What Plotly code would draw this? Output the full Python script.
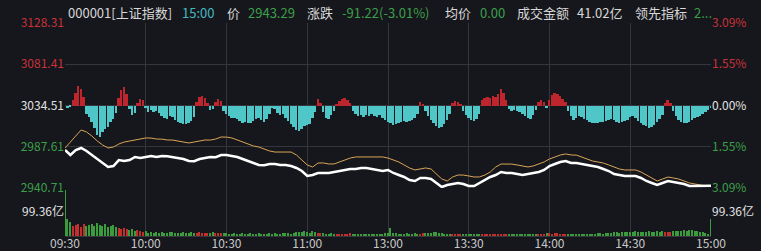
import plotly.graph_objects as go

# ---------------- data ----------------
PREV_CLOSE = 3034.51
price_ticks = [2940.71, 2987.61, 3034.51, 3081.41, 3128.31]
pct_ticks = [-3.09, -1.55, 0.0, 1.55, 3.09]
pct_labels = ["3.09%", "1.55%", "0.00%", "1.55%", "3.09%"]
time_ticks = [0, 30, 60, 90, 120, 150, 180, 210, 240]
time_labels = ["09:30", "10:00", "10:30", "11:00", "13:00", "13:30", "14:00", "14:30", "15:00"]
vol_tick = 99.36

# price line sampled every 2 minutes (minute index 0..240)
line_minutes = list(range(0, 241, 2))
price = [
    2983.9, 2978.2, 2983.9, 2986.2, 2982.8, 2978.2, 2973.7, 2969.1, 2964.6, 2965.7,
    2972.5, 2971.4, 2972.5, 2976.0, 2974.8, 2976.0, 2977.1, 2976.0, 2977.1, 2976.8,
    2975.9, 2974.8, 2973.7, 2971.4, 2971.2, 2973.7, 2974.8, 2976.0, 2975.8, 2978.2,
    2978.3, 2977.1, 2976.0, 2973.7, 2971.4, 2969.1, 2966.9, 2966.7, 2968.0, 2968.1,
    2966.9, 2966.8, 2965.7, 2963.5, 2960.0, 2954.4, 2955.5, 2957.8, 2957.7, 2957.8,
    2958.9, 2960.0, 2961.2, 2962.3, 2962.4, 2963.5, 2963.4, 2962.3, 2961.2, 2960.0,
    2961.2, 2957.8, 2955.5, 2953.2, 2949.8, 2948.7, 2952.1, 2952.0, 2950.9, 2946.4,
    2941.8, 2944.1, 2945.3, 2946.4, 2945.2, 2943.0, 2942.9, 2946.4, 2949.8, 2953.2,
    2955.5, 2958.9, 2957.8, 2957.7, 2956.6, 2955.5, 2956.7, 2957.8, 2958.9, 2961.2,
    2965.7, 2968.0, 2970.3, 2971.4, 2969.1, 2969.2, 2968.0, 2966.9, 2965.7, 2964.6,
    2962.3, 2960.0, 2956.6, 2955.5, 2954.4, 2954.3, 2954.4, 2952.1, 2948.7, 2946.4,
    2944.1, 2946.4, 2948.7, 2947.5, 2946.4, 2945.3, 2943.0, 2943.1, 2942.9, 2943.2,
    2943.29,
]
leading = [
    2986.2, 2993.0, 3001.0, 3006.7, 3004.4, 2999.8, 2994.1, 2989.6, 2986.2, 2987.3,
    2990.7, 2993.0, 2994.1, 2995.3, 2996.4, 2997.6, 2997.5, 2996.4, 2996.3, 2995.3,
    2995.2, 2994.1, 2993.0, 2991.9, 2993.0, 2994.1, 2995.3, 2995.2, 2996.4, 2998.7,
    2998.6, 2997.6, 2995.3, 2993.0, 2990.7, 2988.5, 2987.3, 2985.1, 2982.8, 2981.6,
    2981.7, 2981.5, 2981.6, 2978.2, 2972.5, 2966.9, 2964.6, 2969.1, 2969.2, 2968.0,
    2968.1, 2970.3, 2972.5, 2974.8, 2976.0, 2975.9, 2976.0, 2976.1, 2975.9, 2976.0,
    2974.8, 2972.5, 2970.3, 2966.9, 2963.5, 2961.2, 2962.3, 2963.5, 2962.3, 2956.6,
    2950.9, 2948.7, 2953.2, 2955.5, 2955.4, 2954.4, 2953.2, 2953.3, 2955.5, 2958.9,
    2964.6, 2968.0, 2968.1, 2967.9, 2966.9, 2965.7, 2964.6, 2965.8, 2968.0, 2970.3,
    2973.7, 2976.0, 2978.2, 2979.4, 2978.3, 2978.1, 2976.0, 2973.7, 2971.4, 2970.3,
    2969.1, 2966.9, 2964.6, 2962.3, 2961.2, 2961.1, 2961.2, 2958.9, 2955.5, 2952.1,
    2948.7, 2950.9, 2953.2, 2952.1, 2950.9, 2948.7, 2946.4, 2945.3, 2944.1, 2943.0,
    2942.9,
]

# per-minute series (241 minutes)
bar_minutes = list(range(241))
indicator = (
    [0, -2, -1, 6, 13, 20, 17, 9, -8, -11, -16, -22, -29, -31, -26, -23, -21, -16, -13, -7,
     8, 16, 19, 12, -3, -9, -7, 3, 7, 6, -2, -6, -4, -6, -5, -7, -10, -12, -13, -10,
     -11, -14, -16, -17, -18, -18, -17, -15, -11, 4, 9, 10, 8, 3, -4, -3, 4, 7, 5]
    + [-5, -8, -10, -12, -12, -13, -15, -17, -16, -17, -17, -15, -13, -12, -14, -16, -13, -8,
       -2, -3, -7, -9, -8, -12, -15, -18, -21, -24, -25, -23, -20, -19, -18, -12, -6]
    + [7, 3]
    + [-6, -12, -13, -9, -5]
    + [2, 5, 7, 8, 6, 3]
    + [-5, -8, -10, -9, -11, -9, -10, -8, -10, -11, -9, -12, -14, -16, -17, -19, -18, -17,
       -16, -15, -16, -15, -14, -12, -8]
    + [4, 2]
    + [-5, -10, -14, -17, -20, -22, -21, -18, -14, -8]
    + [3, 5, 4, 2]
    + [-5, -9, -12, -14, -15, -13, -8]
    + [6, 8, 9, 8, 10, 9, 12, 17, 13, 6]
    + [-3, -5, -4, -5, -6, -8, -10, -12, -13, -9, -4]
    + [4, 6, 4]
    + [-2]
    + [6, 11, 13, 12, 10, 7, 4]
    + [-5, -10, -14, -12, -10, -11, -13, -14, -16, -17, -17, -17, -16, -16, -15, -14, -13,
       -14, -16, -17, -16, -15, -14, -11, -10, -12, -15, -17, -19, -20, -22, -21, -19, -16,
       -13, -9]
    + [3, 6, 3]
    + [-5, -10, -14, -16, -17, -17, -16, -14, -12, -11, -10, -8, -6, -4, -2]
)
volume = (
    [190, 72, 58, 41, 46, 50, 38, 49, 42, 45, 50, 41, 53, 46, 42, 49, 37, 42, 45, 37,
     33, 29, 33, 29, 25, 28, 21, 24, 20, 17, 21]
    + [14, 16, 13, 15, 12, 17, 14, 13, 15, 16, 12, 14, 13, 15, 12, 14, 16, 13, 12, 15,
       14, 13, 12, 14, 15, 13, 12, 14, 13, 12]
    + [10, 9, 11, 8, 10, 12, 9, 8, 11, 10, 9, 12, 10, 8, 9, 11, 10, 12, 9, 10]
    + [11, 13, 12, 10, 14, 16, 18, 15, 21, 17, 14, 19, 16, 12, 14, 11, 10, 9, 12, 10]
    + [9, 8, 10, 9, 8, 11, 9, 8, 10, 9, 8, 9, 10, 8, 9, 10, 8, 9, 11, 12]
    + [35]
    + [14, 11, 10, 9, 10, 11, 9, 10, 12, 10, 9, 11, 12, 14, 13, 15, 16, 14, 12]
    + [10, 9, 8, 10, 9, 8, 9, 10, 8, 9, 10, 8, 9, 8, 10, 9, 8, 9, 10, 8]
    + [9, 8, 10, 9, 8, 9, 10, 8, 9, 10, 8, 9, 8, 9, 10, 8, 9, 10, 12, 11]
    + [10, 12, 11, 9, 10, 8, 9, 10, 8, 9, 10, 9, 8, 10, 9, 8, 10, 11, 12, 10]
    + [12, 14, 13, 15, 16, 14, 17, 15, 16, 18, 17, 19, 16, 18, 15, 17, 20, 18, 16, 19]
    + [17, 20, 18, 15, 17, 19, 21, 20, 22, 24, 21, 23, 25, 22, 20, 18, 16, 12, 10, 72]
)
assert len(indicator) == 241 and len(volume) == 241
assert len(price) == len(line_minutes) == len(leading)

# ---------------- style ----------------
BG = "#16171c"
GRID = "#34363c"
RED = "#c8323a"
GREEN = "#3c9f4a"
WHITE = "#e2e2e2"
CYAN_BAR = "#4fc7c9"
RED_BAR = "#be252c"
FONT = "Noto Sans CJK SC, Microsoft YaHei, sans-serif"

W, H = 761, 251
L, R, T, B = 65, 50, 23, 15
plot_h = H - T - B
price_bottom_px = 188
vol_frac = (H - B - price_bottom_px) / plot_h

fig = go.Figure()

ind_colors = [RED_BAR if v > 0 else CYAN_BAR for v in indicator]
fig.add_trace(go.Bar(x=bar_minutes, y=indicator, marker=dict(color=ind_colors, line=dict(width=0)),
                     width=0.72, yaxis="y4", hoverinfo="skip", showlegend=False))

vol_colors = ["#c0302c" if v > 0 else "#3a9c3c" for v in indicator]
fig.add_trace(go.Bar(x=bar_minutes, y=volume, marker=dict(color=vol_colors, line=dict(width=0)),
                     width=0.55, yaxis="y3", hoverinfo="skip", showlegend=False))

fig.add_trace(go.Scatter(x=line_minutes, y=leading, mode="lines",
                         line=dict(color="#d9a557", width=1), yaxis="y", hoverinfo="skip",
                         showlegend=False))
fig.add_trace(go.Scatter(x=line_minutes, y=price, mode="lines",
                         line=dict(color="#ffffff", width=2.5), yaxis="y", hoverinfo="skip",
                         showlegend=False))
# anchors for the right-hand axes
fig.add_trace(go.Scatter(x=[0], y=[0], mode="markers", marker=dict(opacity=0), yaxis="y2",
                         hoverinfo="skip", showlegend=False))
fig.add_trace(go.Scatter(x=[0], y=[0], mode="markers", marker=dict(opacity=0), yaxis="y5",
                         hoverinfo="skip", showlegend=False))


def col(t, c):
    return f'<span style="color:{c}">{t}</span>'


price_colors = [GREEN, GREEN, WHITE, RED, RED]
pct_colors = [GREEN, GREEN, WHITE, RED, RED]

fig.update_layout(
    template="none",
    width=W, height=H, margin=dict(l=L, r=R, t=T, b=B, autoexpand=False),
    paper_bgcolor=BG, plot_bgcolor=BG,
    font=dict(family=FONT, size=12, color=WHITE),
    bargap=0, barmode="overlay",
    xaxis=dict(range=[0, 240], anchor="y3", tickvals=time_ticks, ticktext=time_labels,
               showgrid=True, gridcolor=GRID, gridwidth=1, ticks="", zeroline=False,
               showline=True, linecolor=GRID, tickfont=dict(size=12, color="#c8c8c8"),
               fixedrange=True, automargin=False, ticklabelstandoff=-3),
    yaxis=dict(domain=[vol_frac, 1], range=[price_ticks[0], price_ticks[-1]],
               tickvals=price_ticks,
               ticktext=[col(f"{v:.2f}", c) for v, c in zip(price_ticks, price_colors)],
               showgrid=True, gridcolor=GRID, zeroline=False, ticks="", anchor="x",
               tickfont=dict(size=12), automargin=False, showline=False),
    yaxis2=dict(overlaying="y", side="right", anchor="x", range=[-3.09, 3.09],
                tickvals=pct_ticks,
                ticktext=[col(t, c) for t, c in zip(pct_labels, pct_colors)],
                showgrid=False, zeroline=False, ticks="", tickfont=dict(size=12),
                automargin=False, showline=False),
    yaxis3=dict(domain=[0, vol_frac], range=[0, 2 * vol_tick], tickvals=[vol_tick],
                ticktext=[f"{vol_tick:.2f}亿"], showgrid=False, zeroline=False, ticks="",
                anchor="x", tickfont=dict(size=12, color=WHITE), automargin=False,
                showline=False),
    yaxis4=dict(overlaying="y", range=[-82.5, 82.5], visible=False, anchor="x"),
    yaxis5=dict(overlaying="y3", side="right", anchor="x", range=[0, 2 * vol_tick],
                tickvals=[vol_tick], ticktext=[f"{vol_tick:.2f}亿"], showgrid=False,
                zeroline=False, ticks="", tickfont=dict(size=12, color=WHITE),
                automargin=False, showline=False),
)

# header line
header = [
    ("000001[上证指数]", 66, "#d8d8d8"),
    ("15:00", 180, "#45b9c2"),
    ("价", 225, "#d8d8d8"),
    ("2943.29", 246, GREEN),
    ("涨跌", 305, "#d8d8d8"),
    ("-91.22(-3.01%)", 340, GREEN),
    ("均价", 443, "#d8d8d8"),
    ("0.00", 478, GREEN),
    ("成交金额", 515, "#d8d8d8"),
    ("41.02亿", 575, "#d8d8d8"),
    ("领先指标", 633, "#d8d8d8"),
    ("2...", 692, GREEN),
]
for text, px, c in header:
    fig.add_annotation(text=text, x=(px - L) / (W - L - R), y=(H - B - 13) / plot_h,
                       xref="paper", yref="paper", xanchor="left", yanchor="middle",
                       showarrow=False, font=dict(size=13, color=c, family=FONT))

fig.write_html("out.html")
